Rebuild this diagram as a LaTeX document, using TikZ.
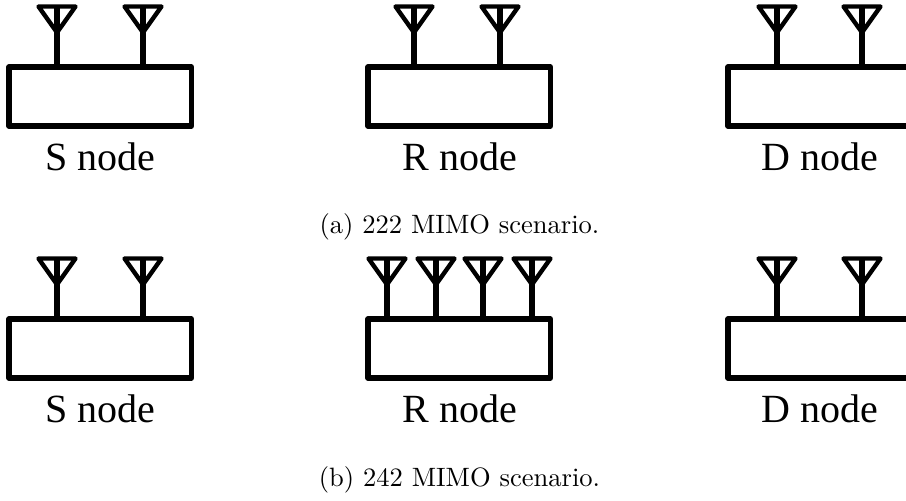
\documentclass[tikz,border=0pt]{standalone}
\usepackage{fontspec}
\newfontfamily\tnr{Liberation Serif}
\tikzset{
  box/.style={draw=black,line width=5.3pt,line join=round,fill=white,minimum width=182.5pt,minimum height=59pt,inner sep=0pt,outer sep=0pt,anchor=north west},
  nodelabel/.style={font=\tnr\fontsize{40}{42}\selectfont,inner sep=0pt,anchor=base},
  caption/.style={font=\normalfont,scale=2.655,inner sep=0pt,anchor=base},
  antenna/.pic={
    \draw[line width=4.4pt,line join=round] (-18.5,0) -- (18.5,0) -- (0,26) -- cycle;
    \draw[line width=5.6pt] (0,-1.5) -- (0,60);
  }
}
\begin{document}
\begin{tikzpicture}[x=1pt,y=-1pt]
\useasboundingbox (0,0) rectangle (906,501);
\clip (0,0) rectangle (906,501);
% upper row
\foreach \x in {57,143,414,500,777,862} \pic at (\x,6.5) {antenna};
\node[box] (s1) at (9,67) {};
\node[box] (r1) at (368,67) {};
\node[box] (d1) at (728,67) {};
\node[nodelabel] (ls1) at (100.4,170) {S node};
\node[nodelabel] (lr1) at (460,170) {R node};
\node[nodelabel] (ld1) at (819.5,170) {D node};
\node[caption] (c1) at (459.5,233.3) {(a) 222 MIMO scenario.};
% lower row
\foreach \x in {57,143,777,862} \pic at (\x,258.5) {antenna};
\foreach \x in {387,436,483,532} \pic at (\x,258.5) {antenna};
\node[box] (s2) at (9,319) {};
\node[box] (r2) at (368,319) {};
\node[box] (d2) at (728,319) {};
\node[nodelabel] (ls2) at (100.4,422) {S node};
\node[nodelabel] (lr2) at (460,422) {R node};
\node[nodelabel] (ld2) at (819.5,422) {D node};
\node[caption] (c2) at (459.5,486.5) {(b) 242 MIMO scenario.};
\end{tikzpicture}
\end{document}
